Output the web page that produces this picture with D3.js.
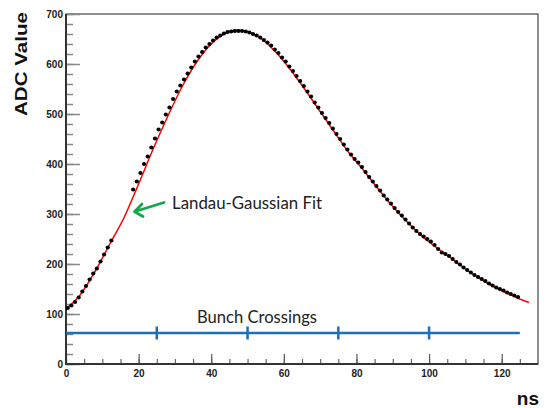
<!DOCTYPE html>
<html lang="en">
<head>
    <meta charset="UTF-8">
    <script src="https://d3js.org/d3.v7.min.js"></script>
    <style>
        body { margin: 0; background: #fff; }
        .tick text { font-family: Arial, "Liberation Sans", sans-serif; font-weight: bold; font-size: 10px; fill: #222; }
    </style>
</head>
<body>
    <div id="chart"></div>
    <script>
        // measured points (ns, ADC)
        const dotTime = [0.5, 1.5, 2.5, 3.5, 4.5, 5.5, 6.5, 7.5, 8.5, 9.5, 10.5, 11.5, 12.5,
            18.5, 19.5, 20.5, 21.5, 22.5, 23.5, 24.5, 25.5, 26.5, 27.5, 28.5, 29.5,
            30.5, 31.5, 32.5, 33.5, 34.5, 35.5, 36.5, 37.5, 38.5, 39.5,
            40.5, 41.5, 42.5, 43.5, 44.5, 45.5, 46.5, 47.5, 48.5, 49.5,
            50.5, 51.5, 52.5, 53.5, 54.5, 55.5, 56.5, 57.5, 58.5, 59.5,
            60.5, 61.5, 62.5, 63.5, 64.5, 65.5, 66.5, 67.5, 68.5, 69.5,
            70.5, 71.5, 72.5, 73.5, 74.5, 75.5, 76.5, 77.5, 78.5, 79.5,
            80.5, 81.5, 82.5, 83.5, 84.5, 85.5, 86.5, 87.5, 88.5, 89.5,
            90.5, 91.5, 92.5, 93.5, 94.5, 95.5, 96.5, 97.5, 98.5, 99.5,
            100.5, 101.5, 102.5, 103.5, 104.5, 105.5, 106.5, 107.5, 108.5, 109.5,
            110.5, 111.5, 112.5, 113.5, 114.5, 115.5, 116.5, 117.5, 118.5, 119.5,
            120.5, 121.5, 122.5, 123.5, 124.5];
        const dotAdc = [112, 117, 124, 133, 145, 156, 169, 181, 191, 205, 219, 233, 247,
            349, 365, 382, 400, 415, 433, 451, 469, 483, 499, 513, 530,
            545, 557, 569, 581, 593, 605, 615, 624, 633, 640,
            647, 653, 657, 661, 664, 665, 666, 666, 666, 665,
            663, 660, 657, 653, 648, 643, 637, 629, 622, 613,
            605, 595, 586, 576, 566, 556, 545, 535, 523, 513,
            502, 492, 482, 471, 460, 450, 439, 429, 419, 410,
            403, 394, 384, 374, 365, 356, 347, 337, 329, 321,
            312, 304, 297, 289, 281, 273, 266, 260, 255, 250,
            245, 238, 230, 223, 220, 216, 210, 204, 199, 193,
            188, 183, 178, 174, 170, 166, 161, 157, 153, 150,
            147, 143, 140, 137, 134];

        // Landau-Gaussian fit
        const fitTime = [0, 4, 8, 12, 16, 20, 24, 28, 32, 36, 40, 44, 47, 50, 54, 58, 62, 66,
            70, 74, 78, 82, 86, 90, 94, 98, 102, 106, 110, 114, 118, 122, 126, 127.5];
        const fitAdc = [110, 139, 185, 239, 293, 360, 430, 495, 555, 604, 640, 662, 668, 665, 649, 622, 587, 547,
            505, 463, 422, 387, 350, 315, 284, 256, 233, 212, 190, 171, 154, 140, 127, 123];

        // bunch crossing markers
        const bunchRange = [0, 125];
        const bunchTicks = [25, 50, 75, 100];
        const bunchLevel = 62;

        const xTicks = [0, 20, 40, 60, 80, 100, 120];
        const yTicks = [0, 100, 200, 300, 400, 500, 600, 700];

        const width = 551, height = 408;
        const margin = { top: 14, right: 13, bottom: 44, left: 66 };

        const x = d3.scaleLinear().domain([0, 130]).range([margin.left, width - margin.right]);
        const y = d3.scaleLinear().domain([0, 700]).range([height - margin.bottom, margin.top]);

        const svg = d3.select("#chart").append("svg")
            .attr("width", width)
            .attr("height", height);

        // frame
        svg.append("rect")
            .attr("x", x(0)).attr("y", y(700))
            .attr("width", x(130) - x(0)).attr("height", y(0) - y(700))
            .attr("fill", "none").attr("stroke", "#444").attr("stroke-width", 1.2);

        // minor ticks
        svg.append("g")
            .attr("transform", `translate(${x(0)},0)`)
            .call(d3.axisLeft(y).tickValues(d3.range(0, 701, 20)).tickSize(-7).tickFormat(""))
            .call(g => g.select(".domain").remove())
            .selectAll("line").attr("stroke", "#888").attr("stroke-width", 1.5);
        svg.append("g")
            .attr("transform", `translate(0,${y(0)})`)
            .call(d3.axisBottom(x).tickValues(d3.range(0, 126, 5)).tickSize(-5).tickFormat(""))
            .call(g => g.select(".domain").remove())
            .selectAll("line").attr("stroke", "#666").attr("stroke-width", 1.2);

        // major ticks + labels
        const yAxis = svg.append("g")
            .attr("transform", `translate(${x(0)},0)`)
            .call(d3.axisLeft(y).tickValues(yTicks).tickSize(-14).tickSizeOuter(0).tickPadding(3));
        yAxis.select(".domain").remove();
        yAxis.selectAll("line").attr("stroke", "#888").attr("stroke-width", 1.5);

        const xAxis = svg.append("g")
            .attr("transform", `translate(0,${y(0)})`)
            .call(d3.axisBottom(x).tickValues(xTicks).tickSize(-10).tickSizeOuter(0).tickPadding(6));
        xAxis.select(".domain").remove();
        xAxis.selectAll("line").attr("stroke", "#555").attr("stroke-width", 1.2);

        // thick left and bottom axis lines
        svg.append("path")
            .attr("d", `M${x(0)},${y(700)}V${y(0)}H${x(130)}`)
            .attr("fill", "none").attr("stroke", "#333").attr("stroke-width", 2);

        // axis titles
        svg.append("text")
            .attr("transform", `translate(27,${y(700) - 2}) rotate(-90)`)
            .attr("text-anchor", "end")
            .attr("font-family", "Arial, 'Liberation Sans', sans-serif")
            .attr("font-weight", "bold").attr("font-size", 17)
            .attr("textLength", 104).attr("lengthAdjust", "spacingAndGlyphs")
            .attr("fill", "#111")
            .text("ADC Value");
        svg.append("text")
            .attr("x", 539).attr("y", 405)
            .attr("text-anchor", "end")
            .attr("font-family", "Arial, 'Liberation Sans', sans-serif")
            .attr("font-weight", "bold").attr("font-size", 19)
            .attr("fill", "#111")
            .text("ns");

        // bunch crossings
        svg.append("line")
            .attr("x1", x(bunchRange[0])).attr("x2", x(bunchRange[1]))
            .attr("y1", y(bunchLevel)).attr("y2", y(bunchLevel))
            .attr("stroke", "#1f6fb8").attr("stroke-width", 2.5);
        svg.selectAll(".bx").data(bunchTicks).enter().append("line")
            .attr("class", "bx")
            .attr("x1", d => x(d)).attr("x2", d => x(d))
            .attr("y1", y(bunchLevel) - 6.5).attr("y2", y(bunchLevel) + 6.5)
            .attr("stroke", "#1f6fb8").attr("stroke-width", 2.5);
        svg.append("text")
            .attr("x", 197).attr("y", 323)
            .attr("font-family", "Lato, 'Open Sans', sans-serif")
            .attr("font-size", 18)
            .attr("textLength", 120).attr("lengthAdjust", "spacingAndGlyphs")
            .attr("fill", "#222")
            .text("Bunch Crossings");

        // fit curve
        const line = d3.line()
            .x((d, i) => x(fitTime[i]))
            .y(d => y(d))
            .curve(d3.curveMonotoneX);
        svg.append("path")
            .datum(fitAdc)
            .attr("d", line)
            .attr("fill", "none")
            .attr("stroke", "#ff0000")
            .attr("stroke-width", 1.5);

        // data points
        svg.selectAll(".pt").data(dotAdc).enter().append("circle")
            .attr("class", "pt")
            .attr("cx", (d, i) => x(dotTime[i]))
            .attr("cy", d => y(d))
            .attr("r", 2.1)
            .attr("fill", "#000");

        // annotation
        svg.append("path")
            .attr("d", "M164,202.5L135,211.5M142,204L134.5,211.7L143,216.5")
            .attr("fill", "none")
            .attr("stroke", "#14a84a").attr("stroke-width", 2.8)
            .attr("stroke-linecap", "round").attr("stroke-linejoin", "round");
        svg.append("text")
            .attr("x", 172).attr("y", 209)
            .attr("font-family", "Lato, 'Open Sans', sans-serif")
            .attr("font-size", 18)
            .attr("textLength", 150).attr("lengthAdjust", "spacingAndGlyphs")
            .attr("fill", "#222")
            .text("Landau-Gaussian Fit");
    </script>
</body>
</html>
